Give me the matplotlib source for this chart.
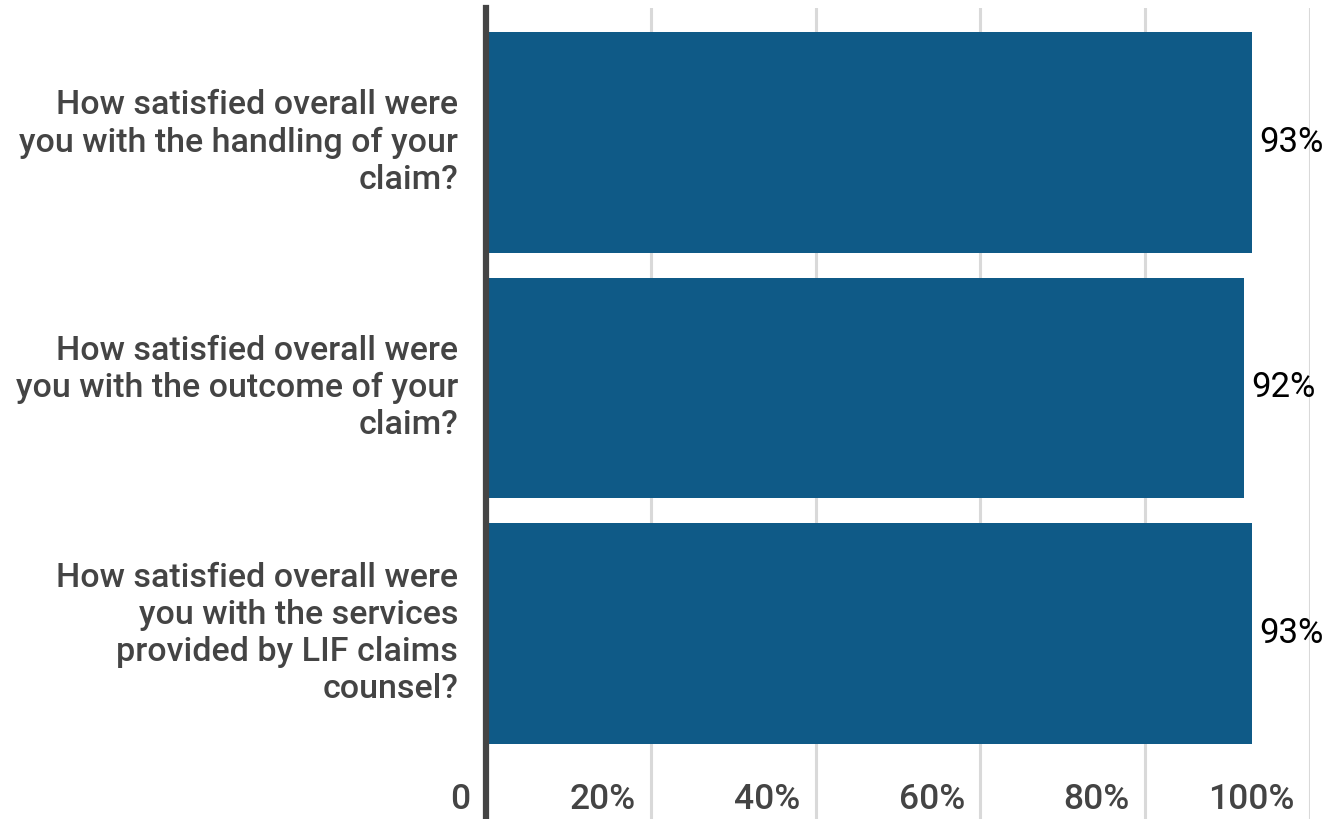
import matplotlib.pyplot as plt

questions = [
    "How satisfied overall were\nyou with the handling of your\nclaim?",
    "How satisfied overall were\nyou with the outcome of your\nclaim?",
    "How satisfied overall were\nyou with the services\nprovided by LIF claims\ncounsel?",
]
values = [93, 92, 93]
tick_vals = [0, 20, 40, 60, 80, 100]
tick_labels = ["0", "20%", "40%", "60%", "80%", "100%"]

bar_color = "#0f5a87"
text_gray = "#444444"

plt.rcParams['font.family'] = ['Roboto', 'DejaVu Sans']

fig = plt.figure(figsize=(13.38, 8.19), dpi=100)
ax = fig.add_axes([486 / 1338, 0.0, (1310 - 486) / 1338, 1 - 8 / 819])

ypos = list(range(len(values)))
ax.barh(ypos, values, height=0.9, color=bar_color, zorder=3)

ax.set_xlim(0, 100)
ax.set_ylim(2.756, -0.548)

# gridlines
for v in tick_vals[1:]:
    ax.axvline(v, color="#d9d9d9", lw=2.2, zorder=1)

for s in ["top", "right", "bottom"]:
    ax.spines[s].set_visible(False)
ax.spines["left"].set_color(text_gray)
ax.spines["left"].set_linewidth(4.5)
ax.spines["left"].set_zorder(4)

ax.set_xticks([])
ax.set_yticks([])

# category labels
for y, q in zip(ypos, questions):
    ax.annotate(q, xy=(0, y), xycoords="data", xytext=(-20, 0),
                textcoords="offset points", ha="right", va="center",
                fontsize=24.5, fontweight="medium", color=text_gray,
                linespacing=1.2)

# bar value labels
for y, v in zip(ypos, values):
    ax.annotate(f"{v}%", xy=(v, y), xytext=(5, 0), textcoords="offset points",
                ha="left", va="center", fontsize=25, color="black")

# tick labels inside the axes, bottom
tr = ax.get_xaxis_transform()
for v, lab in zip(tick_vals, tick_labels):
    ax.annotate(lab, xy=(v, 0), xycoords=tr, xytext=(-11, 2),
                textcoords="offset points", ha="right", va="bottom",
                fontsize=25.5, fontweight="medium", color=text_gray)

fig.savefig("out.png", dpi=100)
